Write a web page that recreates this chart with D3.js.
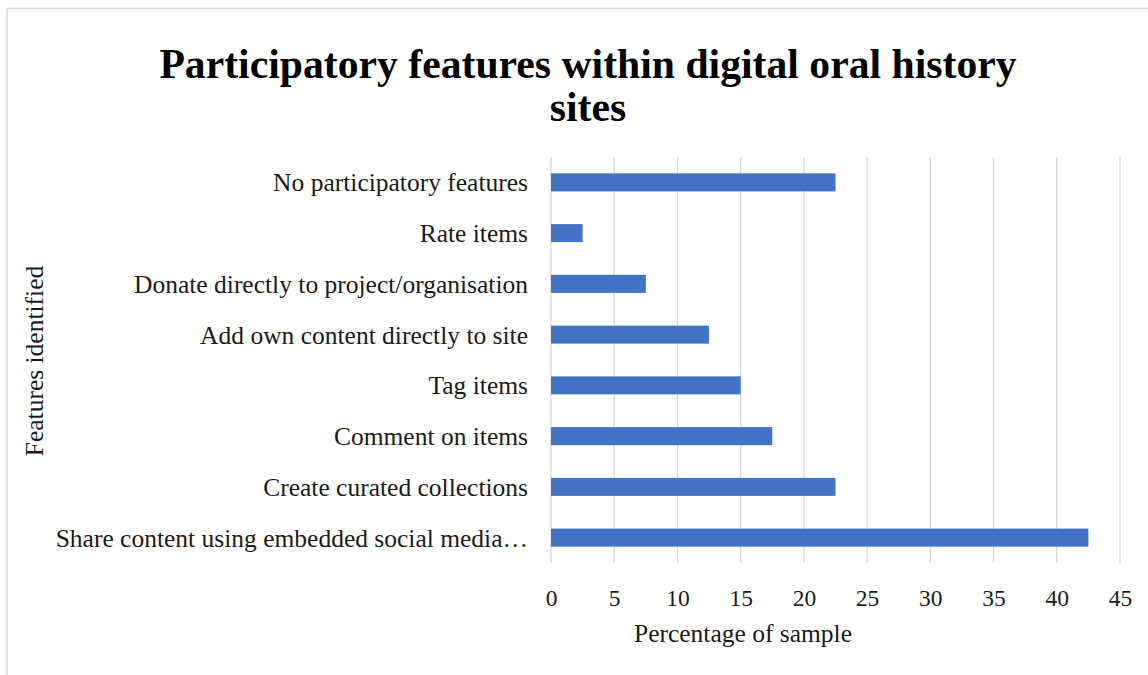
<!DOCTYPE html>
<html><head><meta charset="utf-8">
<script src="https://cdn.jsdelivr.net/npm/d3@7"></script>
<style>body{margin:0;background:#fff}svg{display:block}</style>
</head><body>
<svg id="c" width="1148" height="675"></svg>
<script>
const categories = [
  "No participatory features",
  "Rate items",
  "Donate directly to project/organisation",
  "Add own content directly to site",
  "Tag items",
  "Comment on items",
  "Create curated collections",
  "Share content using embedded social media…"
];
const values = [22.5, 2.5, 7.5, 12.5, 15, 17.5, 22.5, 42.5];
const xTicks = [0, 5, 10, 15, 20, 25, 30, 35, 40, 45];
const titleLines = ["Participatory features within digital oral history", "sites"];
const xTitle = "Percentage of sample";
const yTitle = "Features identified";

(function () {
const font = "'Liberation Serif', 'Times New Roman', serif";
const svg = d3.select("#c");
svg.append("rect").attr("x", 0).attr("y", 0).attr("width", 1148).attr("height", 675).attr("fill", "#fff");
// frame
svg.append("path").attr("d", "M7,675 V8.5 H1148").attr("fill", "none").attr("stroke", "#d9d9d9").attr("stroke-width", 1.5);

const pLeft = 551, pRight = 1120, pTop = 157, pBottom = 563;
const x = d3.scaleLinear().domain([0, 45]).range([pLeft, pRight]);
const y = d3.scaleBand().domain(categories).range([pTop, pBottom]).paddingInner(0.645).paddingOuter(0.3225);

// gridlines
svg.append("g").selectAll("line").data(xTicks).join("line")
  .attr("x1", d => x(d)).attr("x2", d => x(d)).attr("y1", pTop).attr("y2", pBottom)
  .attr("stroke", "#d9d9d9").attr("stroke-width", 1.3);

// bars
svg.append("g").selectAll("rect").data(values).join("rect")
  .attr("x", x(0)).attr("y", (d, i) => y(categories[i]))
  .attr("width", d => x(d) - x(0)).attr("height", y.bandwidth())
  .attr("fill", "#4472c4");

// x axis
const xAxis = d3.axisBottom(x).tickValues(xTicks).tickSize(0).tickPadding(0);
const gx = svg.append("g").attr("transform", `translate(0,${pBottom + 43})`).call(xAxis);
gx.select(".domain").remove();
gx.selectAll("text").attr("font-family", font).attr("font-size", 23.5).attr("fill", "#1a1a1a").attr("dy", 0);

// y axis
const yAxis = d3.axisLeft(y).tickSize(0).tickPadding(0);
const gy = svg.append("g").attr("transform", `translate(${pLeft - 23},0)`).call(yAxis);
gy.select(".domain").remove();
gy.selectAll("text").attr("font-family", font).attr("font-size", 25.5).attr("fill", "#1a1a1a").attr("dy", "0.35em");

// titles
svg.append("g").selectAll("text").data(titleLines).join("text")
  .attr("x", 588).attr("y", (d, i) => 78 + i * 43)
  .attr("text-anchor", "middle").attr("font-family", font).attr("font-weight", "bold")
  .attr("font-size", 41.7).attr("fill", "#000").text(d => d);

svg.append("text").attr("x", 743).attr("y", 642).attr("text-anchor", "middle")
  .attr("font-family", font).attr("font-size", 25.5).attr("fill", "#1a1a1a").text(xTitle);

svg.append("text").attr("transform", "translate(34,361) rotate(-90)").attr("text-anchor", "middle")
  .attr("dy", "0.35em").attr("font-family", font).attr("font-size", 25.5).attr("fill", "#1a1a1a").text(yTitle);
})();
</script>
</body></html>
